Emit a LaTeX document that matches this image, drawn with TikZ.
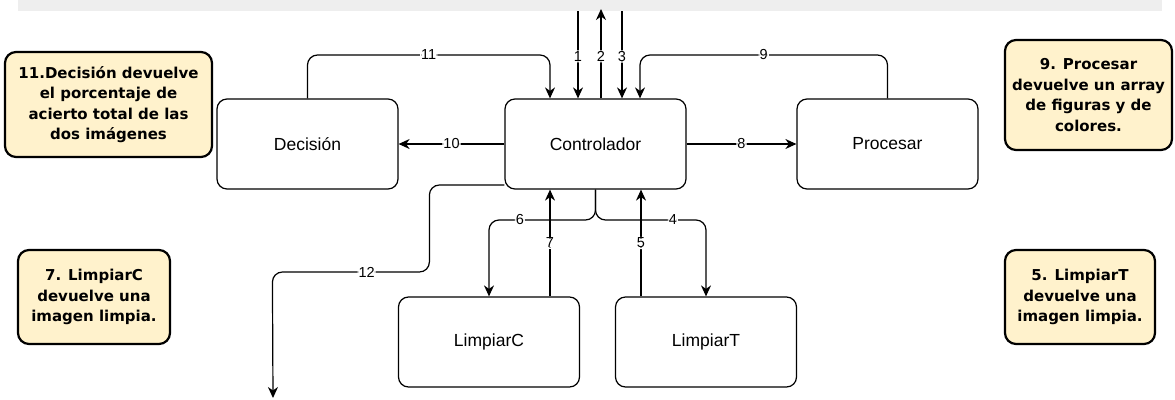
\documentclass[tikz,border=0pt]{standalone}
\usepackage{fontspec}
\setmainfont{Liberation Sans}
\newfontfamily\notefont{DejaVu Sans}
\usetikzlibrary{arrows.meta}
\definecolor{notefill}{HTML}{FFF2CC}
\definecolor{bandgray}{HTML}{EEEEEE}
\begin{document}
\begin{tikzpicture}[x=1pt,y=-1pt,
 box/.style={draw, line width=1.2pt, rounded corners=10pt, minimum width=181pt, minimum height=90pt, font=\fontsize{17.5}{20}\selectfont, inner sep=0pt},
 note/.style={draw, line width=2.2pt, rounded corners=11pt, fill=notefill, align=center, font=\notefont\bfseries\fontsize{15}{20.5}\selectfont, inner sep=0pt},
 edge/.style={line width=1.2pt, rounded corners=10pt, -{Stealth[length=11pt,width=10pt,inset=3.5pt]}},
 lbl/.style={fill=white, inner sep=1pt, font=\fontsize{14.5}{16}\selectfont}]
\useasboundingbox (0,0) rectangle (1175,399);
\fill[bandgray] (18,0) rectangle (1162,11);

\node[box] (ctrl) at (595.5,144) {Controlador};
\node[box] (dec) at (307.5,144) {Decisión};
\node[box] (proc) at (887.5,144) {Procesar};
\node[box] (limc) at (489,342) {LimpiarC};
\node[box] (limt) at (706,342) {LimpiarT};

\node[note, minimum width=207pt, minimum height=105pt] (n11) at (108.5,104.5) {11.Decisión devuelve\\el porcentaje de\\acierto total de las\\dos imágenes};
\node[note, minimum width=167pt, minimum height=110pt] (n9) at (1088.5,95) {9. Procesar\\devuelve un array\\de figuras y de\\colores.};
\node[note, minimum width=152pt, minimum height=94pt] (n7) at (94,297) {7. LimpiarC\\devuelve una\\imagen limpia.};
\node[note, minimum width=150pt, minimum height=94pt] (n5) at (1080,297) {5. LimpiarT\\devuelve una\\imagen limpia.};

\coordinate (t1) at (578,11);
\coordinate (t2) at (601,9);
\coordinate (t3) at (622,11);
\coordinate (t11) at (550,55);
\coordinate (t9) at (640,55);
\coordinate (h64) at (0,220);
\coordinate (x7) at (550,0);
\coordinate (x5) at (641,0);
\coordinate (e12) at (273,398);

\draw[edge] (t1) -- node[lbl,pos=0.52]{1} (ctrl.north -| t1);
\draw[edge] (ctrl.north -| t2) -- node[lbl,pos=0.47]{2} (t2);
\draw[edge] (t3) -- node[lbl,pos=0.52]{3} (ctrl.north -| t3);
\draw[edge] (dec.north) -- (dec.north |- t11) -- node[lbl]{11} (t11) -- (ctrl.north -| t11);
\draw[edge] (proc.north) -- (proc.north |- t9) -- node[lbl]{9} (t9) -- (ctrl.north -| t9);
\draw[edge] (ctrl.west) -- node[lbl]{10} (dec.east);
\draw[edge] (ctrl.east) -- node[lbl]{8} (proc.west);
\draw[edge] (ctrl.south) -- (ctrl.south |- h64) -- node[lbl,pos=0.71]{6} (limc.north |- h64) -- (limc.north);
\draw[edge] (ctrl.south) -- (ctrl.south |- h64) -- node[lbl,pos=0.70]{4} (limt.north |- h64) -- (limt.north);
\draw[edge] (limc.north -| x7) -- node[lbl]{7} (ctrl.south -| x7);
\draw[edge] (limt.north -| x5) -- node[lbl]{5} (ctrl.south -| x5);
\draw[edge] ([yshift=-41pt]ctrl.west) -- ++(-75,0) -- ++(0,87) -- node[lbl,pos=0.4]{12} ++(-157,0) -- (e12);
\end{tikzpicture}
\end{document}
